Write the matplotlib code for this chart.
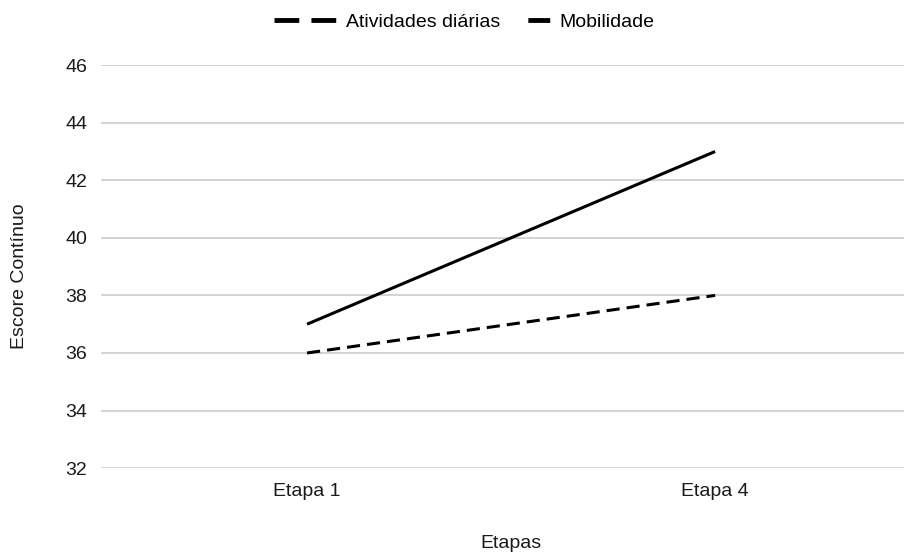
import matplotlib.pyplot as plt
from matplotlib.lines import Line2D

plt.rcParams['font.family'] = ['Liberation Sans', 'DejaVu Sans']

etapas = ['Etapa 1', 'Etapa 4']
atividades = [36, 38]
mobilidade = [37, 43]
yticks = [32, 34, 36, 38, 40, 42, 44, 46]

fs = 14

fig = plt.figure(figsize=(9.05, 5.52), dpi=100)
ax = fig.add_axes([0.1116, 0.152, 0.8874, 0.730])

x = list(range(len(etapas)))
ax.plot(x, atividades, color='black', lw=2.2, linestyle=(0, (4.3, 2.3)),
        solid_capstyle='butt', dash_capstyle='butt')
ax.plot(x, mobilidade, color='black', lw=2.2, solid_capstyle='butt')

ax.set_xlim(-0.505, 1.463)
ax.set_ylim(32, 46)
ax.set_yticks(yticks)
ax.set_xticks(x)
ax.set_xticklabels(etapas)
ax.grid(axis='y', color='#cccccc', lw=1.2)
ax.set_axisbelow(True)
for s in ax.spines.values():
    s.set_visible(False)
ax.tick_params(axis='both', length=0, labelsize=fs, colors='#1a1a1a', pad=10)
ax.tick_params(axis='x', pad=11)

fig.text(0.022, 0.5, 'Escore Contínuo', rotation=90, va='center', ha='center',
         fontsize=fs, color='#1a1a1a')
fig.text(0.565, 0.016, 'Etapas', ha='center', va='center', fontsize=fs, color='#1a1a1a')

# legend keys: two dashes for the first series, one block on the right for the second
handles = [
    Line2D([], [], color='black', lw=3.5, linestyle=(0, (5.1, 2.5)), dash_capstyle='butt'),
    Line2D([], [], color='black', lw=3.5, linestyle=(4.5, (4.5, 8.2)), dash_capstyle='butt'),
]
fig.legend(handles, ['Atividades diárias', 'Mobilidade'], loc='center',
           bbox_to_anchor=(0.513, 0.96), ncol=2, frameon=False, fontsize=fs,
           handlelength=3.18, columnspacing=-0.62, handletextpad=0.51)

fig.savefig('out.png', dpi=100)
